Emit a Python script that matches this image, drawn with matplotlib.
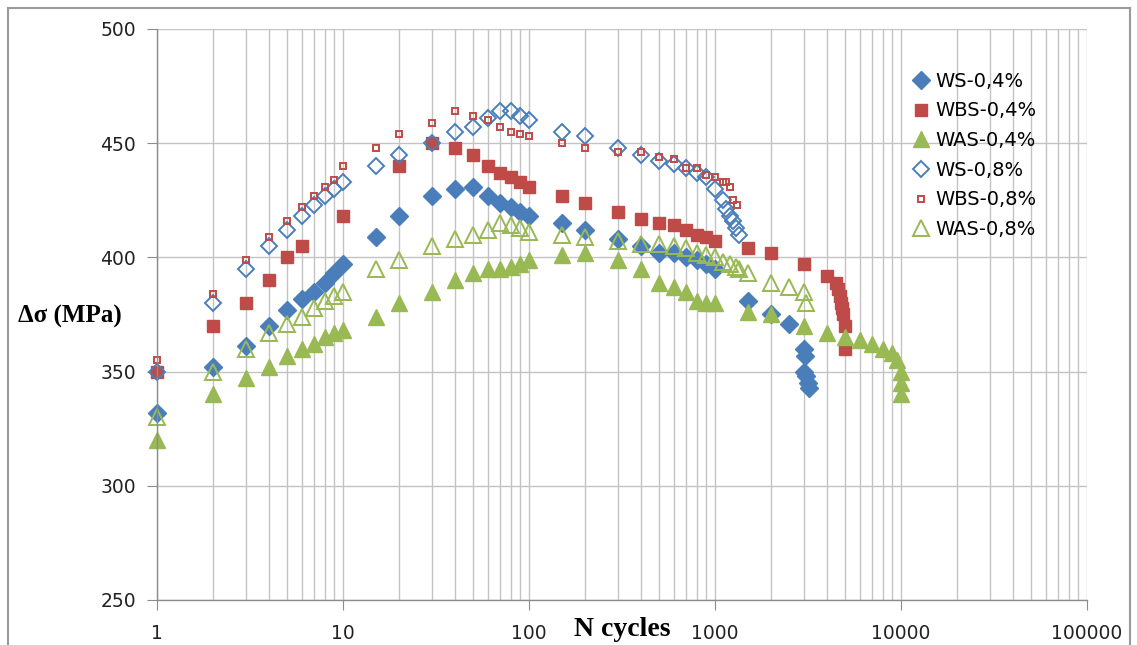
import matplotlib
matplotlib.use("Agg")
import matplotlib.pyplot as plt
from matplotlib.ticker import LogLocator, FixedLocator, NullFormatter
from matplotlib.lines import Line2D

# data
ws04_n = [1, 2, 3, 4, 5, 6, 7, 8, 9, 10, 15, 20, 30, 40, 50, 60, 70, 80, 90, 100,
          150, 200, 300, 400, 500, 600, 700, 800, 900, 1000, 1500, 2000, 2500,
          3000, 3050, 3000, 3100, 3150, 3200]
ws04_s = [332, 352, 361, 370, 377, 382, 385, 389, 393, 397, 409, 418, 427, 430, 431,
          427, 424, 422, 420, 418, 415, 412, 408, 405, 402, 402, 400, 399, 397, 395,
          381, 375, 371, 360, 357, 350, 348, 345, 343]

wbs04_n = [1, 2, 3, 4, 5, 6, 10, 20, 30, 40, 50, 60, 70, 80, 90, 100, 150, 200, 300,
           400, 500, 600, 700, 800, 900, 1000, 1500, 2000, 3000, 4000, 4500, 4600,
           4700, 4750, 4800, 4900, 5000, 5000]
wbs04_s = [350, 370, 380, 390, 400, 405, 418, 440, 450, 448, 445, 440, 437, 435, 433,
           431, 427, 424, 420, 417, 415, 414, 412, 410, 409, 407, 404, 402, 397, 392,
           389, 386, 383, 380, 378, 375, 370, 360]

was04_n = [1, 2, 3, 4, 5, 6, 7, 8, 9, 10, 15, 20, 30, 40, 50, 60, 70, 80, 90, 100,
           150, 200, 300, 400, 500, 600, 700, 800, 900, 1000, 1500, 2000, 3000, 4000,
           5000, 6000, 7000, 8000, 9000, 9500, 10000, 10000, 10000]
was04_s = [320, 340, 347, 352, 357, 360, 362, 365, 367, 368, 374, 380, 385, 390, 393,
           395, 395, 396, 397, 399, 401, 402, 399, 395, 389, 387, 385, 381, 380, 380,
           376, 375, 370, 367, 365, 364, 362, 360, 358, 355, 350, 345, 340]

ws08_n = [1, 2, 3, 4, 5, 6, 7, 8, 9, 10, 15, 20, 30, 40, 50, 60, 70, 80, 90, 100,
          150, 200, 300, 400, 500, 600, 700, 800, 900, 1000, 1100, 1150, 1200, 1250,
          1300, 1350]
ws08_s = [350, 380, 395, 405, 412, 418, 423, 427, 430, 433, 440, 445, 450, 455, 457,
          461, 464, 464, 462, 460, 455, 453, 448, 445, 442, 441, 439, 437, 435, 430,
          425, 421, 418, 416, 413, 410]

wbs08_n = [1, 2, 3, 4, 5, 6, 7, 8, 9, 10, 15, 20, 30, 40, 50, 60, 70, 80, 90, 100,
           150, 200, 300, 400, 500, 600, 700, 800, 900, 1000, 1100, 1150, 1200, 1250,
           1320]
wbs08_s = [355, 384, 399, 409, 416, 422, 427, 431, 434, 440, 448, 454, 459, 464, 462,
           460, 457, 455, 454, 453, 450, 448, 446, 446, 444, 443, 439, 439, 436, 435,
           433, 433, 431, 425, 423]

was08_n = [1, 2, 3, 4, 5, 6, 7, 8, 9, 10, 15, 20, 30, 40, 50, 60, 70, 80, 90, 100,
           150, 200, 300, 400, 500, 600, 700, 800, 900, 1000, 1100, 1200, 1300, 1350,
           1500, 2000, 2500, 3000, 3100]
was08_s = [330, 350, 360, 367, 371, 374, 378, 381, 383, 385, 395, 399, 405, 408, 410,
           412, 415, 414, 413, 411, 410, 409, 407, 406, 406, 405, 404, 402, 401, 400,
           398, 397, 396, 395, 393, 389, 387, 385, 380]

x_ticks = [1, 10, 100, 1000, 10000, 100000]
x_labels = ["1", "10", "100", "1000", "10000", "100000"]
y_ticks = [250, 300, 350, 400, 450, 500]

BLUE = "#4a7ebb"
RED = "#be4b48"
GREEN = "#98b954"
GRID = "#c3c3c3"
AXIS = "#8c8c8c"

W, H = 1137, 645
fig = plt.figure(figsize=(W / 100, H / 100), dpi=100)
ax = fig.add_axes([157 / W, (H - 600) / H, (1087 - 157) / W, (600 - 29) / H])

# outer chart border
fig.add_artist(Line2D([8 / W, 8 / W], [-0.1, (H - 8) / H], color="#9a9a9a", lw=1.5))
fig.add_artist(Line2D([8 / W, 1130 / W], [(H - 8) / H, (H - 8) / H], color="#9a9a9a", lw=1.5))
fig.add_artist(Line2D([1130 / W, 1130 / W], [-0.1, (H - 8) / H], color="#9a9a9a", lw=1.5))

ax.set_xscale("log")
ax.set_xlim(1, 100000)
ax.set_ylim(250, 500)

ax.plot(ws04_n, ws04_s, "D", color=BLUE, ms=9, mec=BLUE, ls="none", clip_on=False, label="WS-0,4%")
ax.plot(wbs04_n, wbs04_s, "s", color=RED, ms=9, mec=RED, ls="none", clip_on=False, label="WBS-0,4%")
ax.plot(was04_n, was04_s, "^", color=GREEN, ms=12, mec=GREEN, ls="none", clip_on=False, label="WAS-0,4%")
ax.plot(ws08_n, ws08_s, "D", mfc="none", mec=BLUE, mew=1.4, ms=8, ls="none", clip_on=False, label="WS-0,8%")
ax.plot(wbs08_n, wbs08_s, "s", mfc="none", mec=RED, mew=1.4, ms=5, ls="none", clip_on=False, label="WBS-0,8%")
ax.plot(was08_n, was08_s, "^", mfc="none", mec=GREEN, mew=1.4, ms=12, ls="none", clip_on=False, label="WAS-0,8%")

ax.xaxis.set_major_locator(FixedLocator(x_ticks))
ax.set_xticklabels(x_labels)
ax.xaxis.set_minor_locator(LogLocator(base=10, subs=range(2, 10), numticks=20))
ax.xaxis.set_minor_formatter(NullFormatter())
ax.set_yticks(y_ticks)

ax.grid(True, which="both", axis="x", color=GRID, lw=1)
ax.grid(True, which="major", axis="y", color=GRID, lw=1)
ax.set_axisbelow(True)

for side in ["top", "right"]:
    ax.spines[side].set_visible(False)
for side in ["left", "bottom"]:
    ax.spines[side].set_color(AXIS)
    ax.spines[side].set_linewidth(1)

ax.tick_params(axis="both", which="major", direction="out", length=7, color=AXIS,
               labelsize=13.5, labelcolor="#222222")
ax.tick_params(axis="y", pad=8)
ax.tick_params(axis="x", pad=10)
ax.tick_params(axis="x", which="minor", length=0)

fig.text(70 / W, 1 - 316 / H, "\u0394\u03c3 (MPa)", ha="center", va="center",
         family="Liberation Serif", fontweight="bold", fontsize=18)
fig.text(622 / W, 1 - 630 / H, "N cycles", ha="center", va="center",
         family="Liberation Serif", fontweight="bold", fontsize=20)

ax.legend(loc="upper left", bbox_to_anchor=(902 / W, 1 - 62 / H),
          bbox_transform=fig.transFigure, frameon=False, fontsize=14,
          handletextpad=0.2, handlelength=1.0, labelspacing=0.55, borderpad=0)

fig.savefig("out.png", dpi=100)
